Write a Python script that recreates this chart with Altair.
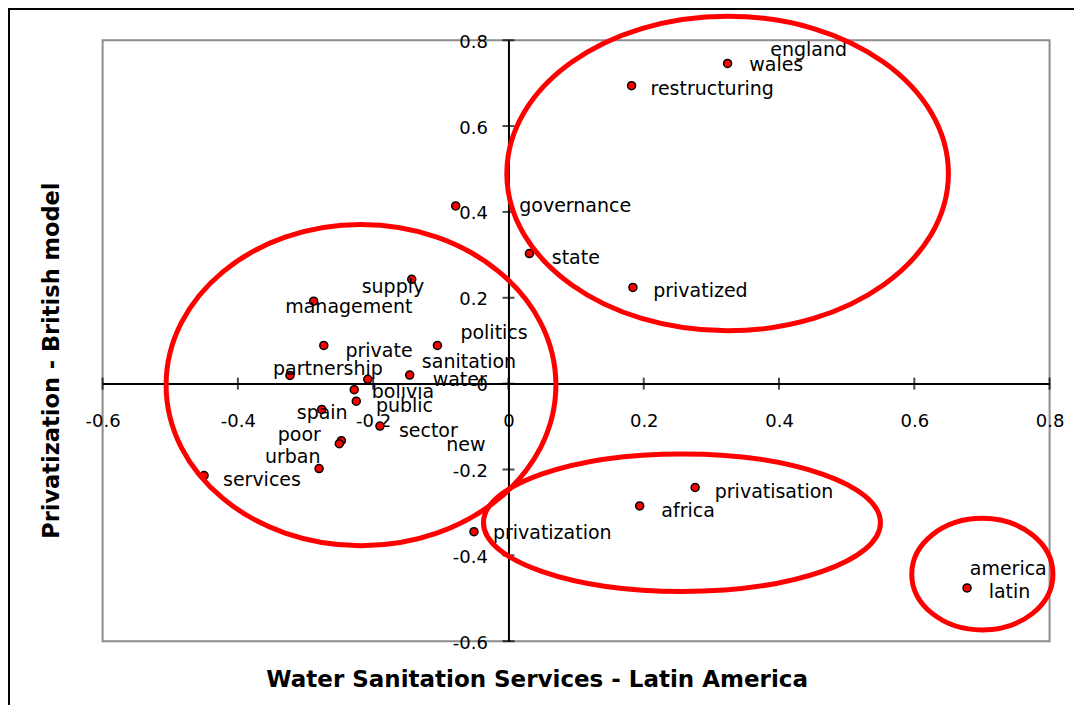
import altair as alt
import pandas as pd

# ---- data ----
point_names = ["governance", "supply", "management", "private", "politics", "partnership",
               "sanitation", "water", "bolivia", "public", "spain", "sector", "poor", "new",
               "urban", "services", "privatization", "wales", "restructuring", "privatized",
               "state", "privatisation", "africa", "latin"]
point_x = [-0.078, -0.143, -0.288, -0.273, -0.105, -0.323, -0.208, -0.146, -0.228, -0.225,
           -0.276, -0.190, -0.247, -0.250, -0.280, -0.450, -0.051, 0.324, 0.182, 0.184,
           0.031, 0.276, 0.194, 0.678]
point_y = [0.414, 0.243, 0.192, 0.089, 0.089, 0.019, 0.010, 0.020, -0.014, -0.041,
           -0.060, -0.099, -0.133, -0.140, -0.198, -0.214, -0.345, 0.746, 0.694, 0.224,
           0.303, -0.242, -0.285, -0.476]

label_text = ["england", "wales", "restructuring", "governance", "state", "privatized",
              "supply", "management", "politics", "private", "sanitation", "partnership",
              "water", "bolivia", "public", "spain", "sector", "poor", "new", "urban",
              "services", "privatization", "privatisation", "africa", "america", "latin"]
label_x = [0.387, 0.356, 0.210, 0.016, 0.064, 0.214, -0.217, -0.330, -0.071, -0.241,
           -0.128, -0.348, -0.112, -0.202, -0.196, -0.313, -0.162, -0.341, -0.092, -0.360,
           -0.422, -0.023, 0.305, 0.226, 0.682, 0.710]
label_y = [0.777, 0.742, 0.686, 0.414, 0.292, 0.216, 0.224, 0.179, 0.117, 0.076,
           0.051, 0.035, 0.008, -0.019, -0.053, -0.068, -0.110, -0.120, -0.144, -0.171,
           -0.224, -0.349, -0.252, -0.297, -0.431, -0.486]

tick_values = [-0.6, -0.4, -0.2, 0, 0.2, 0.4, 0.6, 0.8]

ellipse_x = [0.324, -0.218, 0.2565, 0.7006]
ellipse_y = [0.4895, -0.0035, -0.324, -0.4438]

# ---- layout ----
W, H = 947, 601
OFF_X_AXIS = -(H - H * 0.8 / 1.4)   # put x axis on y = 0
OFF_Y_AXIS = -(W * 0.6 / 1.4)       # put y axis on x = 0

xscale = alt.Scale(domain=[-0.6, 0.8], nice=False, zero=False)
yscale = alt.Scale(domain=[-0.6, 0.8], nice=False, zero=False)

FONT = "DejaVu Sans"

xaxis = alt.Axis(values=tick_values, orient="bottom", offset=OFF_X_AXIS, grid=False,
                 ticks=False, tickSize=0, domain=True, domainColor="black", domainWidth=2,
                 labelExpr="'' + datum.value", labelFlush=False, labelOverlap=False,
                 labelPadding=38, labelBaseline="middle", labelFont=FONT, labelFontSize=18,
                 labelColor="black",
                 title="Water Sanitation Services - Latin America",
                 titleFont=FONT, titleFontSize=23, titleFontWeight="bold", titleColor="black",
                 titleX=434, titleY=303, titleAlign="center", titleBaseline="alphabetic")
yaxis = alt.Axis(values=tick_values, orient="left", offset=OFF_Y_AXIS, grid=False,
                 ticks=False, tickSize=0, domain=True, domainColor="black", domainWidth=2,
                 labelExpr="'' + datum.value", labelFlush=False, labelOverlap=False,
                 labelPadding=21, labelBaseline="middle", labelOffset=2, labelFont=FONT,
                 labelFontSize=18, labelColor="black",
                 title="Privatization - British model",
                 titleFont=FONT, titleFontSize=22.5, titleFontWeight="bold", titleColor="black",
                 titleX=-450, titleY=320, titleAngle=270, titleAlign="center",
                 titleBaseline="alphabetic")

X = alt.X("x:Q", scale=xscale, axis=xaxis)
Y = alt.Y("y:Q", scale=yscale, axis=yaxis)

points = pd.DataFrame({"x": point_x, "y": point_y, "word": point_names})
labels = pd.DataFrame({"x": label_x, "y": label_y, "word": label_text})
xt = pd.DataFrame({"x": tick_values})
yt = pd.DataFrame({"y": tick_values})
ell = pd.DataFrame({"x": ellipse_x, "y": ellipse_y})

x_ticks = alt.Chart(xt).mark_tick(orient="vertical", size=12, thickness=2, color="black").encode(
    x=X, y=alt.datum(0, scale=yscale))
y_ticks = alt.Chart(yt).mark_tick(orient="horizontal", size=12, thickness=2, color="black").encode(
    y=Y, x=alt.datum(0, scale=xscale))

dots = alt.Chart(points).mark_circle(size=64, color="#FF0000", stroke="black",
                                     strokeWidth=1.5, opacity=1).encode(x=X, y=Y)

texts = alt.Chart(labels).mark_text(align="left", baseline="middle", font=FONT, fontSize=19,
                                    color="black").encode(x=X, y=Y, text="word:N")


def ellipse_path(rx, ry):
    k = 0.5523
    return (f"M {-rx},0 C {-rx},{-k*ry} {-k*rx},{-ry} 0,{-ry} "
            f"C {k*rx},{-ry} {rx},{-k*ry} {rx},0 "
            f"C {rx},{k*ry} {k*rx},{ry} 0,{ry} "
            f"C {-k*rx},{ry} {-rx},{k*ry} {-rx},0 Z")


radii = [(220.8, 157.3), (194.9, 160.6), (198.5, 68.8), (70.6, 55.8)]
ellipse_layers = []
for i, (rx, ry) in enumerate(radii):
    ellipse_layers.append(
        alt.Chart(ell.iloc[[i]]).mark_point(shape=ellipse_path(rx, ry), size=4, filled=False,
                                            stroke="#FF0000", strokeWidth=5, opacity=1)
        .encode(x=X, y=Y)
    )

frame = alt.Chart(pd.DataFrame({"x": [0]})).mark_rect(
    fillOpacity=0, stroke="black", strokeWidth=2
).encode(x=alt.value(-93.6), x2=alt.value(3000), y=alt.value(-31.2), y2=alt.value(3000))

chart = alt.layer(x_ticks, y_ticks, dots, texts, *ellipse_layers, frame).properties(
    width=W, height=H,
    autosize=alt.AutoSizeParams(type="none"),
    padding={"left": 94.6, "top": 32.2, "right": 24, "bottom": 64},
    background="white",
).configure_view(stroke="#8c8c8c", strokeWidth=2)

chart.save("out.html", embed_options={"renderer": "svg", "actions": False})
